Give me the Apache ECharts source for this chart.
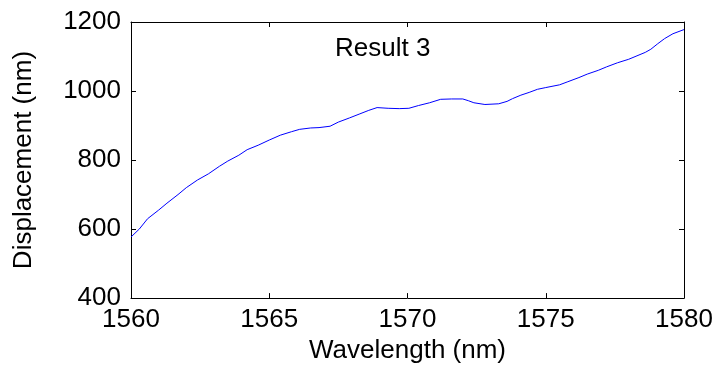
<!DOCTYPE html>
<html>
<head>
<meta charset="utf-8">
<script src="https://cdn.jsdelivr.net/npm/echarts@6/dist/echarts.min.js"></script>
<style>
html,body{margin:0;padding:0;background:#fff;}
#chart{width:719px;height:369px;}
</style>
</head>
<body>
<div id="chart"></div>
<script>
const wavelengths = [1560.0,1560.3,1560.6,1561.0,1561.3,1561.7,1562.0,1562.4,1562.8,1563.2,1563.5,1563.9,1564.2,1564.6,1565.0,1565.4,1565.8,1566.1,1566.5,1566.8,1567.2,1567.5,1567.9,1568.25,1568.6,1568.9,1569.3,1569.7,1570.05,1570.4,1570.8,1571.2,1571.6,1572.0,1572.2,1572.4,1572.8,1573.3,1573.6,1573.8,1574.1,1574.4,1574.7,1575.0,1575.5,1575.8,1576.2,1576.5,1576.9,1577.2,1577.6,1578.0,1578.3,1578.6,1578.8,1579.05,1579.3,1579.6,1580.0];
const displacement = [577,600,630,655,675,700,720,742,760,782,797,814,830,843,858,872,882,889,893,894,898,910,922,933,944,952,950,949,950,958,966,976,977,977,972,966,961,963,970,978,988,996,1005,1010,1018,1027,1039,1049,1060,1070,1082,1092,1102,1112,1121,1137,1152,1166,1178];
const xTicks = [1560,1565,1570,1575,1580];
const yTicks = [400,600,800,1000,1200];
const titleText = 'Result 3';
const xName = 'Wavelength (nm)';
const yName = 'Displacement (nm)';

const FONT = 'Liberation Sans, Arial, sans-serif';
const chart = echarts.init(document.getElementById('chart'), null, {renderer:'canvas'});
const lineStyle = {color:'#000', width:1};
const fmt = v => String(v);
chart.setOption({
  animation:false,
  backgroundColor:'#fff',
  title:{text:titleText, left:330, top:31, textStyle:{fontFamily:FONT, fontSize:26, fontWeight:'normal', color:'#000'}},
  grid:{left:131, right:35, top:22, bottom:63, containLabel:false},
  xAxis:[{
    type:'value', min:xTicks[0], max:xTicks[xTicks.length-1], interval:5,
    name:xName, nameLocation:'middle', nameGap:36,
    nameTextStyle:{fontFamily:FONT, fontSize:26, color:'#000'},
    axisLine:{show:true, onZero:false, lineStyle:lineStyle},
    axisTick:{show:true, inside:true, length:5, lineStyle:lineStyle},
    axisLabel:{show:true, margin:9, fontFamily:FONT, fontSize:26, color:'#000', formatter:fmt},
    splitLine:{show:false}
  },{
    type:'value', position:'top', min:xTicks[0], max:xTicks[xTicks.length-1], interval:5,
    axisLine:{show:true, onZero:false, lineStyle:lineStyle},
    axisTick:{show:true, inside:true, length:5, lineStyle:lineStyle},
    axisLabel:{show:false}, splitLine:{show:false}
  }],
  yAxis:[{
    type:'value', min:yTicks[0], max:yTicks[yTicks.length-1], interval:200,
    name:yName, nameLocation:'middle', nameGap:94,
    nameTextStyle:{fontFamily:FONT, fontSize:26, color:'#000'},
    axisLine:{show:true, onZero:false, lineStyle:lineStyle},
    axisTick:{show:true, inside:true, length:5, lineStyle:lineStyle},
    axisLabel:{show:true, margin:10, fontFamily:FONT, fontSize:26, color:'#000', formatter:fmt},
    splitLine:{show:false}
  },{
    type:'value', position:'right', min:yTicks[0], max:yTicks[yTicks.length-1], interval:200,
    axisLine:{show:true, onZero:false, lineStyle:lineStyle},
    axisTick:{show:true, inside:true, length:5, lineStyle:lineStyle},
    axisLabel:{show:false}, splitLine:{show:false}
  }],
  series:[{
    type:'line', xAxisIndex:0, yAxisIndex:0,
    data: wavelengths.map((w,i)=>[w, displacement[i]]),
    showSymbol:false, symbol:'none',
    lineStyle:{color:'#0000ff', width:1},
    smooth:false
  }]
});
</script>
</body>
</html>
